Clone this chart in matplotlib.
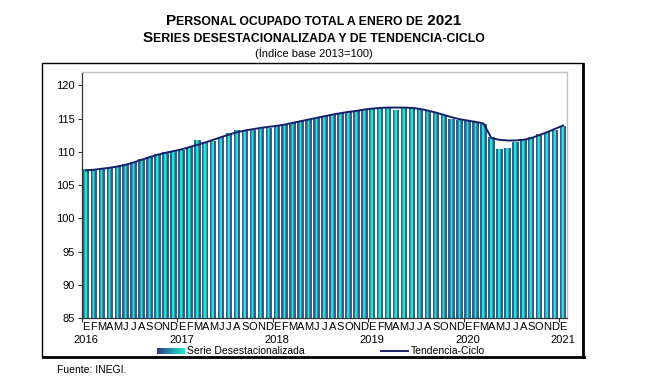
import matplotlib
matplotlib.use('Agg')
import matplotlib.pyplot as plt
import numpy as np
from matplotlib.patches import Rectangle
from matplotlib.lines import Line2D
from matplotlib.legend_handler import HandlerBase
from matplotlib.colors import LinearSegmentedColormap
import matplotlib.transforms as mtransforms

plt.rcParams['font.family'] = ['Liberation Sans', 'DejaVu Sans']

months = ['E', 'F', 'M', 'A', 'M', 'J', 'J', 'A', 'S', 'O', 'N', 'D'] * 5 + ['E']
years = ['2016', '2017', '2018', '2019', '2020', '2021']
yticks = [85, 90, 95, 100, 105, 110, 115, 120]

desest = [107.35, 107.35, 107.5, 107.65, 107.85, 108.1, 108.45, 108.85, 109.25, 109.6, 109.9, 110.15,
          110.25, 110.75, 111.75, 111.5, 111.6, 112.25, 112.75, 113.25, 113.15, 113.35, 113.6, 113.65,
          113.85, 114.1, 114.35, 114.65, 114.9, 115.15, 115.45, 115.65, 115.85, 116.0, 116.15, 116.35,
          116.5, 116.6, 116.6, 116.35, 116.6, 116.6, 116.4, 116.15, 115.85, 115.5, 115.0, 114.75,
          114.6, 114.45, 114.2, 112.15, 110.35, 110.5, 111.5, 111.85, 112.25, 112.65, 113.0, 113.35,
          113.95]
tendencia = [107.2, 107.3, 107.45, 107.6, 107.8, 108.05, 108.4, 108.8, 109.2, 109.55, 109.85, 110.1,
             110.35, 110.7, 111.05, 111.4, 111.8, 112.2, 112.6, 112.95, 113.2, 113.4, 113.6, 113.75,
             113.9, 114.1, 114.35, 114.6, 114.85, 115.1, 115.35, 115.6, 115.8, 116.0, 116.15, 116.35,
             116.5, 116.6, 116.65, 116.65, 116.65, 116.6, 116.45, 116.2, 115.9, 115.55, 115.2, 114.9,
             114.7, 114.5, 114.25, 112.05, 111.8, 111.7, 111.7, 111.8, 112.05, 112.5, 112.95, 113.45,
             113.95]

W, H = 651, 386
fig = plt.figure(figsize=(W / 100, H / 100), dpi=100)
fig.patch.set_facecolor('white')

ax = fig.add_axes([82 / W, 1 - 318 / H, (567 - 82) / W, (318 - 72) / H])
x = np.arange(len(desest))

dark = '#3a5a92'
mid = '#2a9fae'
cyan = '#1ee6cf'
ax.bar(x, desest, width=0.82, color=dark, zorder=2)
ax.bar(x - 0.03, desest, width=0.38, color=mid, zorder=3)
ax.bar(x - 0.03, desest, width=0.20, color=cyan, zorder=4)
ax.plot(x, tendencia, color='#16216b', lw=1.4, zorder=5)

ax.set_xlim(-0.5, len(desest) - 0.5)
ax.set_ylim(85, 122)
ax.set_yticks(yticks)
ax.set_yticklabels([str(v) for v in yticks])
ax.tick_params(axis='y', direction='out', length=3, labelsize=8, pad=2, color='#333333')

ax.set_xticks([-0.5, 11.5, 23.5, 35.5, 47.5, 59.5])
ax.set_xticklabels([''] * 6)
ax.tick_params(axis='x', which='major', direction='out', length=3, color='#333333')
ax.set_xticks(x, months, minor=True)
ax.tick_params(axis='x', which='minor', length=0, labelsize=8, pad=3)

trans = mtransforms.blended_transform_factory(ax.transData, ax.transAxes)
for k, yr in enumerate(years):
    ax.text(k * 12, -0.09, yr, transform=trans, ha='center', va='center', fontsize=8)

for s in ['left', 'bottom']:
    ax.spines[s].set_color('#333333')
    ax.spines[s].set_linewidth(0.9)
for s in ['top', 'right']:
    ax.spines[s].set_color('#c0c0c0')
    ax.spines[s].set_linewidth(1.0)

# outer frame
fig.add_artist(Rectangle((42 / W, 1 - 357 / H), (583 - 42) / W, (357 - 63) / H,
                         transform=fig.transFigure, fill=False, lw=1.0, ec='black'))
fig.add_artist(Line2D([583 / W, 583 / W], [1 - 357 / H, 1 - 64 / H], transform=fig.transFigure,
                      color='black', lw=2.0))
fig.add_artist(Line2D([43 / W, 584 / W], [1 - 357 / H, 1 - 357 / H], transform=fig.transFigure,
                      color='black', lw=2.0))


class GradHandler(HandlerBase):
    def create_artists(self, legend, orig_handle, xdescent, ydescent, width, height, fontsize, trans):
        cmap = LinearSegmentedColormap.from_list('g', ['#2d3f86', '#1ee6cf'])
        n = 24
        arts = []
        h = height * 0.75
        y0 = -ydescent + (height - h) / 2
        for k in range(n):
            r = Rectangle((-xdescent + k * width / n, y0), width / n * 1.05, h,
                          facecolor=cmap(k / (n - 1)), edgecolor='none', transform=trans)
            arts.append(r)
        return arts


grad_proxy = Rectangle((0, 0), 1, 1)
line_proxy = Line2D([], [], color='#16216b', lw=1.4)
fig.legend([grad_proxy, line_proxy], ['Serie Desestacionalizada', 'Tendencia-Ciclo'],
           handler_map={Rectangle: GradHandler()}, loc='center', bbox_to_anchor=(321 / W, 1 - 351.5 / H),
           ncol=2, frameon=False, fontsize=7.5, handlelength=2.6, handletextpad=0.2,
           columnspacing=7.4, borderpad=0, borderaxespad=0)

fig.text(57 / W, 1 - 370 / H, 'Fuente: INEGI.', fontsize=7.5, ha='left', va='center')

renderer = fig.canvas.get_renderer()


def smallcaps_line(ycen, parts):
    texts = [fig.text(0, ycen, s, fontsize=fs, weight='bold', ha='left', va='baseline')
             for s, fs in parts]
    widths = [t.get_window_extent(renderer).width for t in texts]
    total = sum(widths)
    x0 = 314 - total / 2
    for t, w in zip(texts, widths):
        t.set_x(x0 / W)
        x0 += w


smallcaps_line(1 - 25 / H, [('P', 11), ('ERSONAL OCUPADO TOTAL A ENERO DE', 8.8), (' 2021', 11)])
smallcaps_line(1 - 42 / H, [('S', 11), ('ERIES DESESTACIONALIZADA Y DE TENDENCIA-CICLO', 8.8)])
fig.text(314 / W, 1 - 53 / H, '(Índice base 2013=100)', fontsize=8, ha='center', va='center')

fig.savefig('out.png', dpi=100)
